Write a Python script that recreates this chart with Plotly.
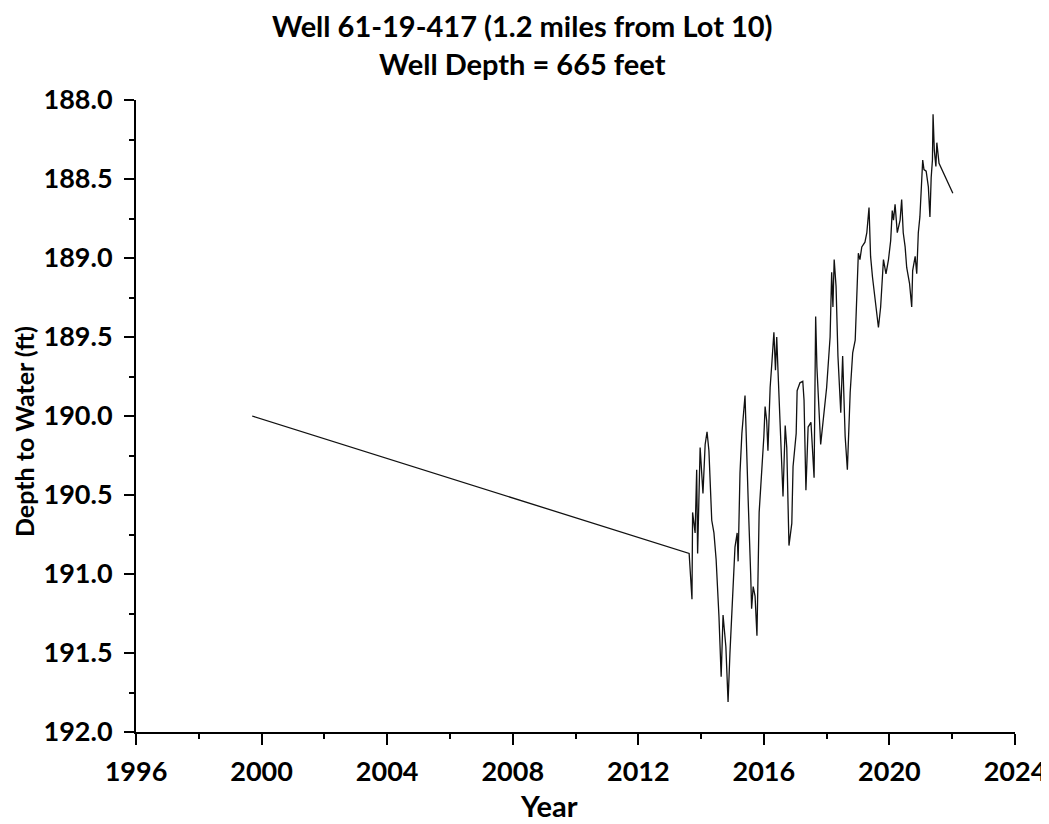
import plotly.graph_objects as go

years = [1999.70, 2013.62, 2013.71, 2013.73, 2013.81, 2013.86, 2013.89, 2013.97, 2014.06, 2014.13,
         2014.19, 2014.25, 2014.34, 2014.41, 2014.48, 2014.57, 2014.64, 2014.70, 2014.79, 2014.86,
         2014.92, 2015.01, 2015.08, 2015.15, 2015.18, 2015.24, 2015.30, 2015.40, 2015.46, 2015.50,
         2015.58, 2015.61, 2015.66, 2015.72, 2015.78, 2015.85, 2015.90, 2015.96, 2016.00, 2016.04,
         2016.09, 2016.13, 2016.20, 2016.26, 2016.32, 2016.37, 2016.41, 2016.45, 2016.57, 2016.61,
         2016.68, 2016.73, 2016.80, 2016.89, 2016.93, 2017.03, 2017.06, 2017.15, 2017.24, 2017.28,
         2017.34, 2017.41, 2017.50, 2017.60, 2017.65, 2017.69, 2017.81, 2017.89, 2018.00, 2018.11,
         2018.16, 2018.20, 2018.24, 2018.30, 2018.36, 2018.45, 2018.51, 2018.59, 2018.66, 2018.75,
         2018.83, 2018.91, 2018.96, 2019.01, 2019.06, 2019.12, 2019.22, 2019.28, 2019.35, 2019.40,
         2019.46, 2019.54, 2019.65, 2019.72, 2019.81, 2019.89, 2019.97, 2020.04, 2020.09, 2020.13,
         2020.18, 2020.25, 2020.34, 2020.39, 2020.44, 2020.50, 2020.55, 2020.64, 2020.71, 2020.74,
         2020.82, 2020.87, 2020.92, 2020.97, 2021.06, 2021.10, 2021.17, 2021.24, 2021.29, 2021.33,
         2021.37, 2021.39, 2021.43, 2021.48, 2021.51, 2021.58, 2022.02]

depth = [190.00, 190.87, 191.16, 190.61, 190.74, 190.34, 190.87, 190.20, 190.49, 190.18,
         190.10, 190.22, 190.66, 190.74, 190.91, 191.27, 191.65, 191.26, 191.46, 191.81,
         191.50, 191.16, 190.83, 190.74, 190.92, 190.36, 190.11, 189.87, 190.20, 190.53,
         191.00, 191.22, 191.08, 191.14, 191.39, 190.61, 190.45, 190.28, 190.13, 189.94,
         190.03, 190.22, 189.82, 189.65, 189.47, 189.71, 189.50, 189.71, 190.30, 190.51,
         190.06, 190.20, 190.82, 190.68, 190.32, 190.11, 189.84, 189.79, 189.78, 189.90,
         190.47, 190.07, 190.04, 190.39, 189.37, 189.69, 190.18, 190.03, 189.82, 189.50,
         189.09, 189.31, 189.01, 189.18, 189.62, 189.98, 189.62, 190.13, 190.34, 189.85,
         189.60, 189.52, 189.25, 188.97, 189.01, 188.93, 188.90, 188.84, 188.68, 188.99,
         189.12, 189.27, 189.44, 189.31, 189.01, 189.10, 189.01, 188.89, 188.70, 188.76,
         188.66, 188.84, 188.76, 188.63, 188.84, 188.93, 189.06, 189.16, 189.31, 189.08,
         188.99, 189.10, 188.84, 188.74, 188.38, 188.44, 188.45, 188.55, 188.74, 188.49,
         188.38, 188.09, 188.32, 188.42, 188.27, 188.40, 188.59]

x_ticks = [1996, 2000, 2004, 2008, 2012, 2016, 2020, 2024]
y_ticks = [188.0, 188.5, 189.0, 189.5, 190.0, 190.5, 191.0, 191.5, 192.0]

FONT = "Lato, 'Open Sans', sans-serif"

fig = go.Figure()
fig.add_trace(go.Scatter(x=years, y=depth, mode="lines",
                         line=dict(color="#111111", width=1.3), showlegend=False))

fig.update_layout(
    width=1041, height=816,
    margin=dict(l=128, r=34, t=92, b=92),
    paper_bgcolor="white", plot_bgcolor="white",
    font=dict(family=FONT, color="black"),
    title=dict(text="<b>Well 61-19-417 (1.2 miles from Lot 10)<br>Well Depth = 665 feet</b>",
               x=0.494, xanchor="center", y=0.964, yanchor="middle",
               font=dict(size=29, family=FONT, color="black")),
    annotations=[
        dict(text="<b>Year</b>", xref="paper", yref="paper", x=0.5, y=0,
             xanchor="center", yanchor="middle", xshift=-27, yshift=-73,
             showarrow=False, font=dict(size=29, family=FONT, color="black")),
        dict(text="<b>Depth to Water (ft)</b>", xref="paper", yref="paper", x=0, y=0.5,
             xanchor="center", yanchor="middle", xshift=-112, yshift=-16, textangle=-90,
             showarrow=False, font=dict(size=25, family=FONT, color="black")),
    ],
)

fig.update_xaxes(
    range=[1996, 2024], tickvals=x_ticks, ticktext=[f"<b>{v}</b>" for v in x_ticks],
    showgrid=False, zeroline=False, showline=True, linecolor="black", linewidth=2,
    ticks="outside", ticklen=11, tickwidth=2, tickcolor="black",
    tickfont=dict(size=27, family=FONT), automargin=False, ticklabelstandoff=4,
    minor=dict(dtick=2, tick0=1996, ticks="outside", ticklen=5, tickwidth=2, tickcolor="black"),
)
fig.update_yaxes(
    range=[192.0, 188.0], tickvals=y_ticks, ticktext=[f"<b>{v:.1f}</b>" for v in y_ticks],
    showgrid=False, zeroline=False, showline=True, linecolor="black", linewidth=2,
    ticks="outside", ticklen=10, tickwidth=2, tickcolor="black",
    tickfont=dict(size=27, family=FONT), automargin=False, ticklabelstandoff=6,
    minor=dict(dtick=0.25, tick0=188.0, ticks="outside", ticklen=5, tickwidth=2, tickcolor="black"),
)

fig.write_html("out.html")
